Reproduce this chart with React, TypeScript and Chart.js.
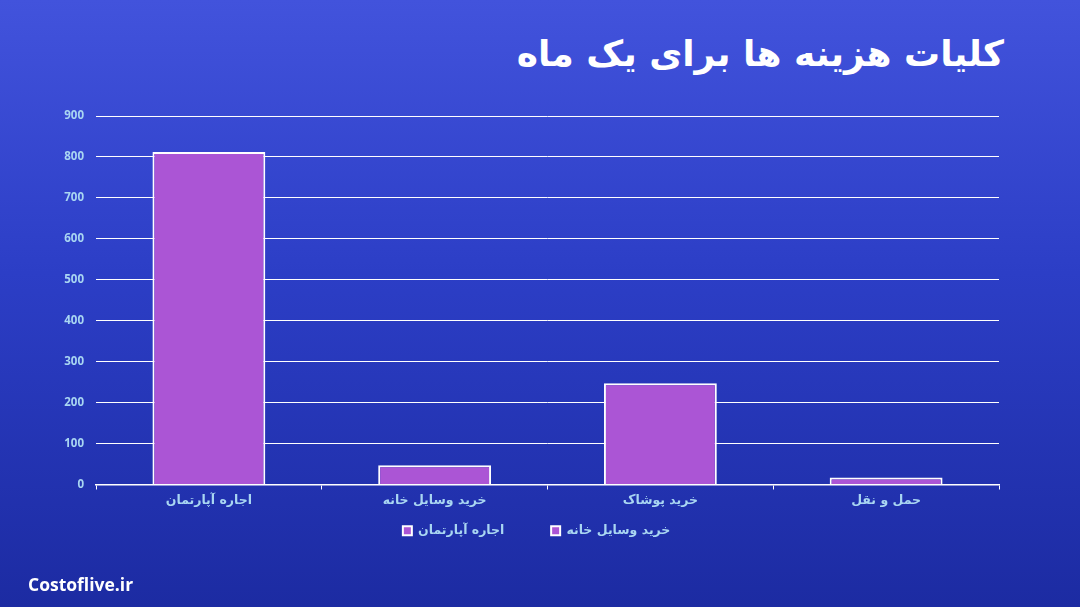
import React, { useEffect, useRef } from "react";
import { Chart, registerables } from "chart.js";

Chart.register(...registerables);

const titleText = "کلیات هزینه ها برای یک ماه";
const footerText = "Costoflive.ir";
const categories = ["اجاره آپارتمان", "خرید وسایل خانه", "خرید پوشاک", "حمل و نقل"];
const seriesValues = [812, 47, 247, 17];
const legendLabels = ["اجاره آپارتمان", "خرید وسایل خانه"];
const yTicks = [0, 100, 200, 300, 400, 500, 600, 700, 800, 900];

const barColor = "#ab55d5";
const labelColor = "#a9d6f2";
const legendGap = "\u00A0".repeat(8);
const legendTail = "\u00A0".repeat(5);

export default function App() {
  const ref = useRef<HTMLCanvasElement | null>(null);

  useEffect(() => {
    if (!ref.current) return;
    const chart = new Chart(ref.current, {
      type: "bar",
      data: {
        labels: categories,
        datasets: [
          {
            label: legendLabels[0],
            data: seriesValues,
            backgroundColor: barColor,
            borderColor: "#ffffff",
            borderWidth: 2,
            categoryPercentage: 1,
            barPercentage: 0.5,
          },
        ],
      },
      options: {
        responsive: false,
        animation: false,
        layout: { padding: { left: 8, right: 81, top: 116, bottom: 60 } },
        scales: {
          x: {
            offset: true,
            grid: {
              offset: true,
              drawOnChartArea: false,
              drawTicks: true,
              tickLength: 5,
              color: "#ffffff",
            },
            border: { color: "#ffffff", width: 1.5 },
            ticks: {
              color: labelColor,
              font: { family: "DejaVu Sans", size: 12.5, weight: "bold" },
              padding: 4,
            },
          },
          y: {
            min: 0,
            max: 900,
            afterFit: (s: any) => {
              s.width = 88;
            },
            afterBuildTicks: (s: any) => {
              s.ticks = yTicks.map((v) => ({ value: v }));
            },
            grid: { color: "#ffffff", lineWidth: 1, drawTicks: false },
            border: { display: false },
            ticks: {
              color: labelColor,
              padding: 12,
              font: { family: "Open Sans", size: 11.5, weight: "bold" },
            },
          },
        },
        plugins: {
          title: { display: false },
          tooltip: { enabled: false },
          legend: {
            position: "bottom",
            fullSize: false,
            labels: {
              color: labelColor,
              font: { family: "DejaVu Sans", size: 12.5, weight: "bold" },
              boxWidth: 9,
              boxHeight: 9,
              padding: 12,
              generateLabels: () =>
                legendLabels.map((t, i) => ({
                  text: i === 0 ? t + legendGap : t + legendTail,
                  fillStyle: barColor,
                  strokeStyle: "#ffffff",
                  lineWidth: 2,
                  fontColor: labelColor,
                  hidden: false,
                  index: i,
                  datasetIndex: 0,
                })),
            },
            onClick: () => {},
          },
        },
      },
    });
    return () => chart.destroy();
  }, []);

  return (
    <div
      style={{
        position: "absolute",
        left: 0,
        top: 0,
        width: 1080,
        height: 607,
        overflow: "hidden",
        background: "linear-gradient(180deg, #4253dc 0%, #2c3ec6 45%, #1c2ba2 100%)",
      }}
    >
      <div
        dir="rtl"
        style={{
          position: "absolute",
          right: 76,
          top: 29,
          color: "#ffffff",
          fontFamily: "DejaVu Sans",
          fontWeight: "bold",
          fontSize: 36,
          lineHeight: "50px",
          whiteSpace: "nowrap",
        }}
      >
        {titleText}
      </div>
      <canvas ref={ref} width={1080} height={607} style={{ position: "absolute", left: 0, top: 0 }} />
      <div
        style={{
          position: "absolute",
          left: 28,
          top: 571,
          color: "#ffffff",
          fontFamily: "Open Sans",
          fontWeight: "bold",
          fontSize: 17.5,
          lineHeight: "26px",
        }}
      >
        {footerText}
      </div>
    </div>
  );
}
